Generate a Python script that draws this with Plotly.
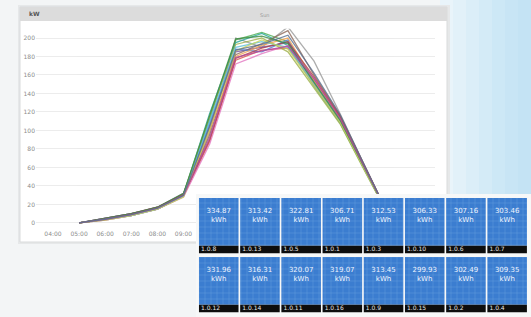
import plotly.graph_objects as go

# ---------------- data ----------------
hours = ["05:00", "06:00", "07:00", "08:00", "09:00", "10:00", "11:00",
         "12:00", "13:00", "14:00", "15:00", "16:00", "17:00"]

s01 = [0, 4, 9, 17, 31, 112, 198, 206, 196, 150, 110, 56, 0]
s02 = [0, 3, 8, 16, 30, 98, 200, 190, 212, 175, 118, 58, 0]
s03 = [0, 4, 9, 15, 29, 88, 176, 187, 189, 152, 112, 55, 0]
s04 = [0, 5, 10, 17, 32, 105, 185, 190, 195, 155, 114, 57, 0]
s05 = [0, 4, 9, 16, 31, 118, 195, 205, 192, 148, 108, 54, 0]
s06 = [0, 4, 8, 15, 29, 95, 182, 194, 208, 160, 116, 58, 0]
s07 = [0, 5, 10, 16, 30, 108, 188, 185, 198, 153, 112, 56, 0]
s08 = [0, 3, 8, 15, 28, 85, 172, 183, 192, 150, 110, 55, 0]
s09 = [0, 4, 9, 16, 31, 115, 193, 200, 185, 146, 107, 53, 0]
s10 = [0, 4, 9, 16, 30, 100, 180, 192, 200, 154, 113, 57, 0]
s11 = [0, 5, 10, 17, 31, 90, 178, 189, 196, 158, 115, 58, 0]
s12 = [0, 4, 8, 15, 29, 110, 190, 196, 190, 151, 111, 55, 0]
s13 = [0, 3, 8, 15, 28, 102, 186, 198, 188, 149, 109, 54, 0]
s14 = [0, 5, 10, 17, 32, 116, 199, 202, 194, 152, 111, 56, 0]
s15 = [0, 4, 9, 16, 30, 92, 179, 186, 191, 156, 113, 57, 0]
s16 = [0, 4, 9, 16, 30, 104, 187, 193, 203, 162, 117, 58, 0]
series = [s01, s02, s03, s04, s05, s06, s07, s08,
          s09, s10, s11, s12, s13, s14, s15, s16]
series_colors = ["#4caf50", "#9a9a9a", "#d9534f", "#7b4fa0", "#26a69a", "#8d6a5b",
                 "#4f7fd0", "#e377c2", "#9fb04a", "#f0a04b", "#b0404a", "#5bc0de",
                 "#c7d35a", "#3e8d42", "#b5479e", "#5a6f8e"]

tile_values = [334.87, 313.42, 322.81, 306.71, 312.53, 306.33, 307.16, 303.46,
               331.96, 316.31, 320.07, 319.07, 313.45, 299.93, 302.49, 309.35]
tile_labels = ["1.0.8", "1.0.13", "1.0.5", "1.0.1", "1.0.3", "1.0.10", "1.0.6", "1.0.7",
               "1.0.12", "1.0.14", "1.0.11", "1.0.16", "1.0.9", "1.0.15", "1.0.2", "1.0.4"]
tile_cols = [0, 1, 2, 3, 4, 5, 6, 7, 0, 1, 2, 3, 4, 5, 6, 7]
tile_rows = [0, 0, 0, 0, 0, 0, 0, 0, 1, 1, 1, 1, 1, 1, 1, 1]

day = "2015-06-01 "
xs = [day + h for h in hours]

W, H = 531, 317
fig = go.Figure()

for s, c in zip(series, series_colors):
    fig.add_trace(go.Scatter(x=xs, y=s, mode="lines", line=dict(color=c, width=1.3),
                             opacity=0.8, hoverinfo="skip", showlegend=False))

# ---------------- tiles on second subplot ----------------
BLUE_H = 0.81
STRIP_H = 0.125
fig.add_trace(go.Bar(x=[3.5], y=[2.3], base=[-0.2], width=[8.6],
                     marker=dict(color="#f7f8f8", line=dict(width=0)),
                     xaxis="x2", yaxis="y2", hoverinfo="skip", showlegend=False))
fig.add_trace(go.Bar(x=tile_cols, y=[BLUE_H] * 16, base=tile_rows, width=0.96,
                     marker=dict(color="#3b7dd0", line=dict(width=0),
                                 pattern=dict(shape="+", fillmode="replace",
                                              bgcolor="#3b7dd0", fgcolor="#6a9fdf",
                                              size=6, solidity=0.12)),
                     xaxis="x2", yaxis="y2", hoverinfo="skip", showlegend=False))
fig.add_trace(go.Bar(x=tile_cols, y=[STRIP_H] * 16,
                     base=[r + BLUE_H for r in tile_rows], width=0.96,
                     marker=dict(color="#0d0d0d", line=dict(width=0)),
                     xaxis="x2", yaxis="y2", hoverinfo="skip", showlegend=False))
fig.add_trace(go.Scatter(x=tile_cols, y=[r + 0.3 for r in tile_rows], mode="text",
                         text=["%.2f<br>kWh" % v for v in tile_values],
                         textfont=dict(family="DejaVu Sans", size=7, color="#eef4ff"),
                         xaxis="x2", yaxis="y2", hoverinfo="skip", showlegend=False))
fig.add_trace(go.Scatter(x=[c - 0.43 for c in tile_cols],
                         y=[r + BLUE_H + STRIP_H / 2 for r in tile_rows], mode="text",
                         text=tile_labels, textposition="middle right",
                         textfont=dict(family="DejaVu Sans", size=6, color="#e8e8e8"),
                         xaxis="x2", yaxis="y2", hoverinfo="skip", showlegend=False))

# ---------------- background shapes ----------------
shapes = []
blues = ["#e9f4fa", "#e2f1f9", "#dbeef8", "#d4ebf7", "#cde8f6", "#c8e5f5", "#c4e3f4"]
x0 = 440
step = (W - x0) / len(blues)
for i, c in enumerate(blues):
    shapes.append(dict(type="rect", xref="paper", yref="paper", layer="below",
                       x0=(x0 + i * step) / W, x1=(x0 + (i + 1) * step + 1) / W,
                       y0=0, y1=1, fillcolor=c, line=dict(width=0)))
# panel shadow + panel
shapes.append(dict(type="rect", xref="paper", yref="paper", layer="below",
                   x0=18 / W, x1=450 / W, y0=1 - 244 / H, y1=1 - 5 / H,
                   fillcolor="#e6e8e9", line=dict(width=0)))
shapes.append(dict(type="rect", xref="paper", yref="paper", layer="below",
                   x0=20 / W, x1=447 / W, y0=1 - 242 / H, y1=1 - 7 / H,
                   fillcolor="#ffffff", line=dict(color="#d9dbdc", width=1)))
shapes.append(dict(type="rect", xref="paper", yref="paper", layer="below",
                   x0=20 / W, x1=447 / W, y0=1 - 21 / H, y1=1 - 7 / H,
                   fillcolor="#dcdcdc", line=dict(width=0)))

annotations = [
    dict(text="<b>kW</b>", xref="paper", yref="paper", x=27 / W, y=1 - 14 / H,
         xanchor="left", yanchor="middle", showarrow=False,
         font=dict(family="DejaVu Sans", size=6, color="#555555")),
    dict(text="Sun", xref="paper", yref="paper", x=265 / W, y=1 - 15 / H,
         xanchor="center", yanchor="middle", showarrow=False,
         font=dict(family="DejaVu Sans", size=5, color="#9a9a9a")),
]

fig.update_layout(
    width=W, height=H, autosize=False,
    margin=dict(l=0, r=0, t=0, b=0, pad=0),
    paper_bgcolor="#f3f5f6", plot_bgcolor="rgba(0,0,0,0)",
    barmode="overlay", showlegend=False,
    shapes=shapes, annotations=annotations,
    xaxis=dict(type="date", domain=[36 / W, 435 / W],
               range=[day + "03:21", day + "18:38"],
               tick0=day + "04:00", dtick=3600000, tickformat="%H:%M",
               showgrid=False, zeroline=False, showline=False, ticks="",
               tickfont=dict(family="DejaVu Sans", size=6, color="#8c8c8c"),
               anchor="y"),
    yaxis=dict(domain=[1 - 228.5 / H, 1 - 28.75 / H], range=[-6, 210],
               dtick=20, tick0=0, showgrid=True, gridcolor="#ececec", gridwidth=1,
               zeroline=False, showline=False, ticks="",
               tickfont=dict(family="DejaVu Sans", size=6, color="#8c8c8c"),
               anchor="x"),
    xaxis2=dict(domain=[196 / W, 1], range=[-0.552, 7.579], visible=False,
                anchor="y2", fixedrange=True),
    yaxis2=dict(domain=[0, 123 / H], range=[2.017, -0.068], visible=False,
                anchor="x2", fixedrange=True),
)

fig.write_html("out.html",
               config=dict(displayModeBar=False),
               post_script="document.body.style.margin='0';"
                           "document.body.style.overflow='hidden';")
